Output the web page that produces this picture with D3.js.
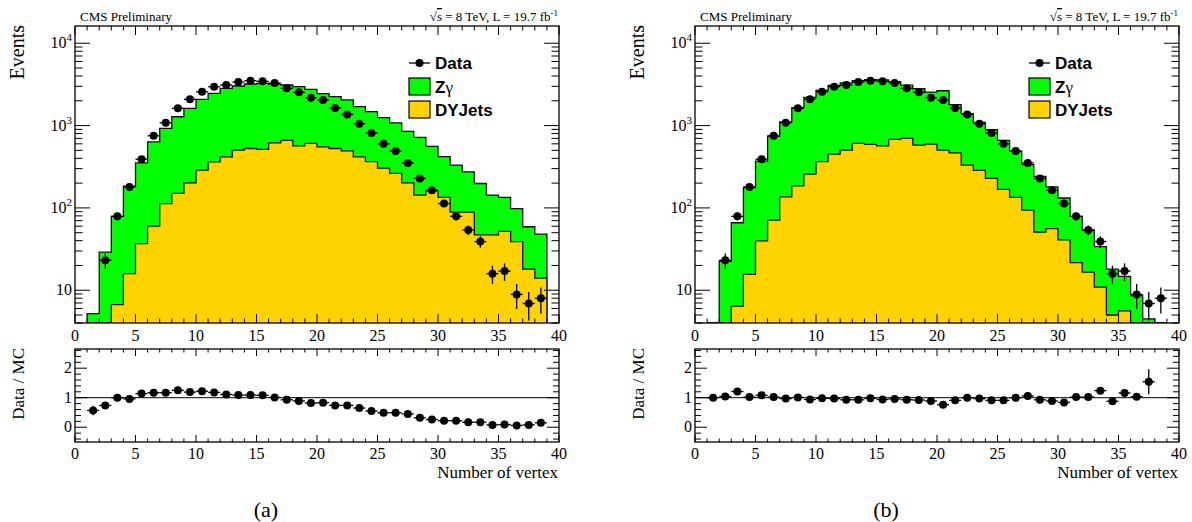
<!DOCTYPE html>
<html>
<head>
<meta charset="utf-8">
<script src="https://cdn.jsdelivr.net/npm/d3@7"></script>
<style>
  body { margin: 0; background: #fff; }
</style>
</head>
<body>
<svg id="chart" width="1192" height="522" font-family="'Liberation Serif', 'DejaVu Serif', 'Times New Roman', serif"></svg>
<script>
// histogram bins 1..38 (low edges), data points at bin centres 1.5..38.5
const binLow = d3.range(1, 39);
const dataCenters = d3.range(1.5, 39, 1);

// data (same in both panels)
const dataCounts = [3, 23.1, 79, 180, 391, 751, 1081, 1618, 2084, 2577, 2965, 3110, 3381, 3508, 3445, 3285,
  2840, 2535, 2180, 2040, 1633, 1367, 1052, 811, 601, 490, 352, 228, 164, 113, 79, 54, 39, 15.9, 17.1, 8.9, 6.9, 8.0];
const dataErr = [1.7, 4.8, 8.9, 13.4, 19.8, 27.4, 32.9, 40.2, 45.7, 50.8, 54.5, 55.8, 58.1, 59.2, 58.7, 57.3,
  53.3, 50.3, 46.7, 45.2, 40.4, 37, 32.4, 28.5, 24.5, 22.1, 18.8, 15.1, 12.8, 10.6, 8.9, 7.3, 6.2, 4, 4.1, 3, 2.6, 2.8];

// (a) before reweighting
const zgA = [5.2, 29, 72, 168, 315, 575, 812, 1130, 1419, 1792, 2102, 2419, 2523, 2673, 2747, 2583, 2450, 2399, 2143,
  1898, 1723, 1557, 1283, 1115, 945, 818, 649, 577, 399, 286, 242, 185, 151, 96, 82, 59, 41, 34];
const dyA = [0, 0, 6.7, 15.9, 36.9, 60, 113, 150, 201, 288, 363, 417, 504, 527, 513, 617, 660, 568, 607, 552,
  527, 493, 417, 365, 305, 262, 201, 143, 161, 134, 89, 89, 47, 47, 52, 39, 18, 14];
const ratioA = [0.57, 0.74, 1.0, 0.96, 1.14, 1.17, 1.17, 1.25, 1.19, 1.22, 1.18, 1.11, 1.09, 1.09, 1.08, 1.01,
  0.93, 0.89, 0.82, 0.83, 0.74, 0.74, 0.65, 0.55, 0.49, 0.49, 0.45, 0.32, 0.26, 0.22, 0.22, 0.17, 0.17, 0.08, 0.09, 0.06, 0.08, 0.15];
const ratioErrA = [0.16, 0.06, 0.05, 0.03, 0.02, 0.02, 0.02, 0.02, 0.02, 0.02, 0.02, 0.02, 0.02, 0.02, 0.02, 0.02,
  0.02, 0.02, 0.02, 0.02, 0.02, 0.02, 0.02, 0.02, 0.02, 0.02, 0.02, 0.02, 0.02, 0.02, 0.02, 0.02, 0.02, 0.02, 0.02, 0.03, 0.03, 0.05];

// (b) after reweighting
const zgB = [3, 22.5, 59.6, 161, 330, 674, 976, 1465, 1943, 2315, 2630, 2796, 2913, 3030, 3032, 2735, 2401, 2222, 1954,
  2146, 1335, 1070, 805, 662, 492, 356, 241, 191, 124, 91, 57, 37, 23, 13, 9.1, 8.6, 4.5, 0];
const dyB = [0, 0, 6.4, 15.6, 39.7, 71, 136, 185, 257, 365, 450, 504, 607, 590, 568, 680, 699, 578, 596, 504,
  465, 330, 285, 228, 168, 134, 94, 51, 56, 41, 21.7, 16.6, 10.9, 5.0, 5.6, 0, 0, 0];
const ratioB = [1.0, 1.04, 1.21, 1.02, 1.08, 1.02, 0.97, 1.01, 0.94, 0.98, 0.97, 0.93, 0.93, 0.98, 0.94, 0.96, 0.93,
  0.92, 0.89, 0.76, 0.91, 1.0, 0.97, 0.91, 0.91, 1.0, 1.06, 0.93, 0.89, 0.84, 1.02, 1.02, 1.24, 0.88, 1.16, 1.03, 1.54];
const ratioErrB = [0.03, 0.04, 0.05, 0.03, 0.02, 0.02, 0.02, 0.02, 0.02, 0.02, 0.02, 0.02, 0.02, 0.02, 0.02, 0.02, 0.02,
  0.02, 0.02, 0.02, 0.02, 0.02, 0.02, 0.02, 0.02, 0.02, 0.02, 0.03, 0.03, 0.04, 0.05, 0.06, 0.08, 0.08, 0.08, 0.1, 0.42];

const xTicksMajor = [0, 5, 10, 15, 20, 25, 30, 35, 40];
const logLabels = [10, 100, 1000, 10000];
const ratioTicks = [0, 1, 2];
const legendItems = ["Data", "Zγ", "DYJets"];

const colors = { zg: "#00ff00", dy: "#ffd300" };
const sansFont = "'Liberation Sans', Arial, Helvetica, sans-serif";
const svg = d3.select("#chart");

function ticksFor(g, x0, x1, y0, y1, major, minor, scale, horizontal, lenMaj, lenMin) {
  // ticks on both opposite edges of a frame, pointing inward
  const draw = (v, len) => {
    const p = scale(v);
    if (horizontal) {
      g.append("line").attr("x1", p).attr("x2", p).attr("y1", y1).attr("y2", y1 - len);
      g.append("line").attr("x1", p).attr("x2", p).attr("y1", y0).attr("y2", y0 + len);
    } else {
      g.append("line").attr("y1", p).attr("y2", p).attr("x1", x0).attr("x2", x0 + len);
      g.append("line").attr("y1", p).attr("y2", p).attr("x1", x1).attr("x2", x1 - len);
    }
  };
  major.forEach(v => draw(v, lenMaj));
  minor.forEach(v => draw(v, lenMin));
}

function drawPanel(p) {
  const ox = p.ox;
  const g = svg.append("g");
  const x = d3.scaleLinear().domain([0, 40]).range([ox + 75, ox + 559]);
  const y = d3.scaleLog().domain([4, 16200]).range([323, 26]);
  const yr = d3.scaleLinear().domain([-0.5, 2.65]).range([442, 349]);
  const ymin = 4;

  const clipId = "clip" + ox;
  svg.append("clipPath").attr("id", clipId).append("rect")
    .attr("x", x(0)).attr("y", 26).attr("width", x(40) - x(0)).attr("height", 297);

  // stacked MC
  const rows = binLow.map((b, i) => ({ bin: b, dy: p.dy[i], zg: p.zg[i] }));
  const series = d3.stack().keys(["dy", "zg"])(rows);
  const plot = g.append("g").attr("clip-path", `url(#${clipId})`);

  [series[1], series[0]].forEach(s => {
    const pts = [];
    s.forEach(d => {
      const v = Math.max(d[1], ymin);
      pts.push([d.data.bin, v], [d.data.bin + 1, v]);
    });
    plot.append("path")
      .datum(pts)
      .attr("d", d3.area().x(d => x(d[0])).y0(y(ymin)).y1(d => y(d[1])))
      .attr("fill", colors[s.key]);
    const outline = [[pts[0][0], ymin], ...pts, [pts[pts.length - 1][0], ymin]];
    plot.append("path")
      .datum(outline)
      .attr("d", d3.line().x(d => x(d[0])).y(d => y(d[1])))
      .attr("fill", "none")
      .attr("stroke", "#111")
      .attr("stroke-width", 1.3);
  });

  // data points
  const pts = dataCenters.map((c, i) => ({ c, v: dataCounts[i], e: dataErr[i] })).filter(d => d.v >= ymin);
  const dg = plot.append("g").attr("stroke", "#000").attr("stroke-width", 1.3);
  pts.forEach(d => {
    dg.append("line").attr("x1", x(d.c - 0.5)).attr("x2", x(d.c + 0.5)).attr("y1", y(d.v)).attr("y2", y(d.v));
    dg.append("line").attr("x1", x(d.c)).attr("x2", x(d.c))
      .attr("y1", y(Math.max(d.v - d.e, ymin))).attr("y2", y(d.v + d.e));
  });
  plot.selectAll(".dot").data(pts).join("circle")
    .attr("cx", d => x(d.c)).attr("cy", d => y(d.v)).attr("r", 4).attr("fill", "#000");

  // frame + ticks (top pad)
  g.append("rect").attr("x", x(0)).attr("y", 26).attr("width", x(40) - x(0)).attr("height", 297)
    .attr("fill", "none").attr("stroke", "#000").attr("stroke-width", 1.3);
  const tk = g.append("g").attr("stroke", "#000").attr("stroke-width", 1);
  ticksFor(tk, x(0), x(40), 26, 323, xTicksMajor, d3.range(0, 41).filter(v => v % 5), x, true, 9, 4.5);
  const logMinor = y.ticks().filter(v => logLabels.indexOf(v) < 0);
  ticksFor(tk, x(0), x(40), 26, 323, logLabels, logMinor, y, false, 15, 7.5);

  // tick labels top pad
  g.selectAll(".xl").data(xTicksMajor).join("text")
    .attr("x", d => x(d)).attr("y", 341).attr("text-anchor", "middle").attr("font-size", 16).text(d => d);
  logLabels.forEach(v => {
    const t = g.append("text").attr("x", x(0) - 3).attr("y", y(v) + 5).attr("text-anchor", "end").attr("font-size", 16);
    const k = Math.round(Math.log10(v));
    if (k === 1) { t.text("10"); }
    else {
      t.append("tspan").text("10");
      t.append("tspan").attr("dy", -7).attr("font-size", 11).text(k);
    }
  });
  g.append("text").attr("transform", `translate(${ox + 24},25) rotate(-90)`)
    .attr("text-anchor", "end").attr("font-size", 20).text("Events");

  // header
  g.append("text").attr("x", ox + 80).attr("y", 21).attr("font-size", 13).text("CMS Preliminary");
  const hdr = g.append("text").attr("x", ox + 558).attr("y", 21).attr("text-anchor", "end").attr("font-size", 13);
  hdr.append("tspan").text("√");
  hdr.append("tspan").style("text-decoration", "overline").text("s");
  hdr.append("tspan").text(" = 8 TeV, L = 19.7 fb");
  hdr.append("tspan").attr("dy", -5).attr("font-size", 9).text("-1");

  // legend
  const lx = ox + 409;
  const lg = g.append("g");
  lg.append("line").attr("x1", lx).attr("x2", lx + 21).attr("y1", 63).attr("y2", 63).attr("stroke", "#000").attr("stroke-width", 1.3);
  lg.append("circle").attr("cx", lx + 10.5).attr("cy", 63).attr("r", 4).attr("fill", "#000");
  lg.append("rect").attr("x", lx).attr("y", 78).attr("width", 21).attr("height", 17)
    .attr("fill", colors.zg).attr("stroke", "#000").attr("stroke-width", 1.2);
  lg.append("rect").attr("x", lx).attr("y", 101).attr("width", 21).attr("height", 17)
    .attr("fill", colors.dy).attr("stroke", "#000").attr("stroke-width", 1.2);
  const legText = (yy) => lg.append("text").attr("x", lx + 26).attr("y", yy)
    .attr("font-family", sansFont).attr("font-weight", "bold").attr("font-size", 17);
  legText(69).text(legendItems[0]);
  const zt = legText(93);
  zt.append("tspan").text("Z");
  zt.append("tspan").attr("font-family", "'Liberation Serif', serif").attr("font-weight", "normal").text("γ");
  legText(116).text(legendItems[2]);

  // ratio pad
  const rg = g.append("g");
  rg.append("line").attr("x1", x(0)).attr("x2", x(40)).attr("y1", yr(1)).attr("y2", yr(1))
    .attr("stroke", "#000").attr("stroke-width", 1);
  const rpts = p.ratio.map((v, i) => ({ c: dataCenters[i], v, e: p.ratioErr[i] }));
  const eg = rg.append("g").attr("stroke", "#000").attr("stroke-width", 1.3);
  rpts.forEach(d => {
    eg.append("line").attr("x1", x(d.c - 0.5)).attr("x2", x(d.c + 0.5)).attr("y1", yr(d.v)).attr("y2", yr(d.v));
    eg.append("line").attr("x1", x(d.c)).attr("x2", x(d.c)).attr("y1", yr(d.v - d.e)).attr("y2", yr(d.v + d.e));
  });
  rg.selectAll(".rdot").data(rpts).join("circle")
    .attr("cx", d => x(d.c)).attr("cy", d => yr(d.v)).attr("r", 4).attr("fill", "#000");

  rg.append("rect").attr("x", x(0)).attr("y", 349).attr("width", x(40) - x(0)).attr("height", 93)
    .attr("fill", "none").attr("stroke", "#000").attr("stroke-width", 1.3);
  const rtk = rg.append("g").attr("stroke", "#000").attr("stroke-width", 1);
  ticksFor(rtk, x(0), x(40), 349, 442, xTicksMajor, d3.range(0, 41).filter(v => v % 5), x, true, 7, 3.5);
  const rMinor = d3.range(-2, 14).map(v => v / 5).filter(v => Math.abs(v % 1) > 1e-9 && v >= -0.5 && v <= 2.65);
  ticksFor(rtk, x(0), x(40), 349, 442, ratioTicks, rMinor, yr, false, 12, 6);

  rg.selectAll(".rxl").data(xTicksMajor).join("text")
    .attr("x", d => x(d)).attr("y", 459).attr("text-anchor", "middle").attr("font-size", 16).text(d => d);
  rg.selectAll(".ryl").data(ratioTicks).join("text")
    .attr("x", x(0) - 3).attr("y", d => yr(d) + 5).attr("text-anchor", "end").attr("font-size", 16).text(d => d);
  rg.append("text").attr("transform", `translate(${ox + 24},348) rotate(-90)`)
    .attr("text-anchor", "end").attr("font-size", 17).text("Data / MC");
  rg.append("text").attr("x", x(40) - 1).attr("y", 478).attr("text-anchor", "end").attr("font-size", 17).text("Number of vertex");

  g.append("text").attr("x", ox + 266).attr("y", 517).attr("text-anchor", "middle").attr("font-size", 22).text(p.tag);
}

drawPanel({ ox: 0, zg: zgA, dy: dyA, ratio: ratioA, ratioErr: ratioErrA, tag: "(a)" });
drawPanel({ ox: 620, zg: zgB, dy: dyB, ratio: ratioB, ratioErr: ratioErrB, tag: "(b)" });
</script>
</body>
</html>
